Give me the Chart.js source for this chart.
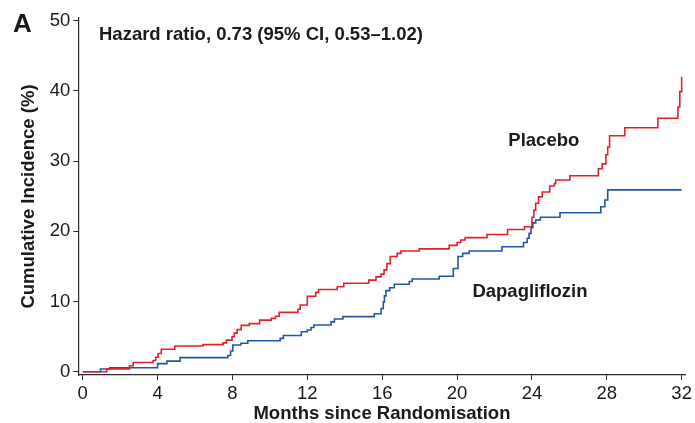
<!DOCTYPE html>
<html>
<head>
<meta charset="utf-8">
<script src="https://cdn.jsdelivr.net/npm/chart.js@4"></script>
<style>
  html, body { margin: 0; padding: 0; background: #fff; }
  #wrap { width: 695px; height: 423px; position: relative; }
</style>
</head>
<body>
<div id="wrap"><canvas id="chart" width="695" height="423"></canvas></div>
<script>
// Kaplan-Meier style cumulative incidence, step changes (months, %)
const placeboMonths = [0, 1.28, 2.5, 2.7, 3.76, 3.9, 4.03, 4.2, 4.92, 6.43, 7.5, 7.68, 7.98, 8.1, 8.25, 8.47, 8.9, 9.45, 10.07, 10.3, 10.5, 11.5, 11.62, 12.0, 12.45, 12.6, 13.6, 13.95, 15.28, 15.67, 15.94, 16.1, 16.25, 16.43, 16.8, 17.0, 17.98, 19.58, 20.0, 20.2, 20.43, 21.6, 22.7, 23.6, 24.0, 24.1, 24.2, 24.35, 24.55, 24.95, 25.2, 25.27, 26.03, 27.55, 27.75, 27.95, 28.05, 28.15, 28.96, 30.73, 31.8, 31.9, 32.0];
const placeboPct    = [0, 0.4, 0.85, 1.3, 1.6, 2.05, 2.6, 3.2, 3.65, 3.85, 4.1, 4.5, 5.0, 5.5, 6.0, 6.6, 6.85, 7.35, 7.6, 7.9, 8.45, 8.9, 9.5, 10.75, 11.3, 11.7, 12.1, 12.6, 13.05, 13.5, 13.9, 14.5, 15.4, 16.4, 16.85, 17.2, 17.5, 18.0, 18.4, 18.75, 19.1, 19.55, 20.25, 20.65, 22.0, 23.0, 24.0, 24.9, 25.6, 26.45, 26.8, 27.3, 27.9, 28.9, 29.6, 30.9, 32.0, 33.6, 34.75, 36.1, 37.7, 39.9, 42.0];

const dapaMonths = [0, 0.95, 1.45, 4.0, 4.5, 5.2, 7.75, 7.9, 8.02, 8.45, 8.82, 10.55, 10.72, 11.68, 12.0, 12.2, 12.35, 13.27, 13.45, 13.9, 15.58, 15.94, 16.06, 16.12, 16.2, 16.4, 16.65, 17.45, 17.6, 19.05, 19.8, 20.05, 20.3, 20.65, 22.4, 23.55, 23.75, 23.85, 23.95, 24.05, 24.2, 24.45, 25.5, 27.68, 27.9, 28.05, 32.0];
const dapaPct    = [0, 0.38, 0.57, 1.15, 1.5, 2.0, 2.3, 2.95, 3.8, 4.05, 4.4, 4.75, 5.15, 5.7, 5.95, 6.3, 6.65, 7.1, 7.5, 7.85, 8.25, 9.0, 9.95, 10.8, 11.55, 11.95, 12.45, 12.85, 13.2, 13.6, 14.7, 16.4, 16.85, 17.2, 17.8, 18.4, 19.0, 19.7, 20.5, 21.2, 21.6, 22.0, 22.65, 23.5, 24.45, 25.9, 25.9];

const monthTicks = [0, 4, 8, 12, 16, 20, 24, 28, 32];
const pctTicks = [0, 10, 20, 30, 40, 50];

const panelLabel = 'A';
const hazardText = 'Hazard ratio, 0.73 (95% CI, 0.53\u20131.02)';
const seriesNames = ['Placebo', 'Dapagliflozin'];

const toPoints = (xs, ys) => xs.map((x, i) => ({ x: x, y: ys[i] }));

const FONT = "'Liberation Sans', Arial, Helvetica, sans-serif";
const INK = '#1a1a1a';

// text labels placed in data coordinates
const notes = [
  { text: hazardText, x: 0.87, y: 47.2 },
  { text: seriesNames[0], x: 22.74, y: 32.15 },
  { text: seriesNames[1], x: 20.82, y: 10.57 }
];

const textPlugin = {
  id: 'panelText',
  afterDraw(chart) {
    const { ctx, scales } = chart;
    ctx.save();
    ctx.fillStyle = INK;
    ctx.textBaseline = 'alphabetic';
    ctx.textAlign = 'left';
    ctx.font = 'bold 26px ' + FONT;
    ctx.fillText(panelLabel, 13, 31.5);
    ctx.font = 'bold 18.5px ' + FONT;
    notes.forEach(n => {
      ctx.fillText(n.text, scales.x.getPixelForValue(n.x), scales.y.getPixelForValue(n.y));
    });
    ctx.restore();
  }
};

new Chart(document.getElementById('chart'), {
  type: 'line',
  data: {
    datasets: [
      {
        label: seriesNames[0],
        data: toPoints(placeboMonths, placeboPct),
        borderColor: '#e4212b',
        borderWidth: 1.6,
        pointRadius: 0,
        stepped: true,
        fill: false
      },
      {
        label: seriesNames[1],
        data: toPoints(dapaMonths, dapaPct),
        borderColor: '#2157a3',
        borderWidth: 1.6,
        pointRadius: 0,
        stepped: true,
        fill: false
      }
    ]
  },
  options: {
    responsive: false,
    animation: false,
    events: [],
    layout: { padding: { top: 18, right: 8, left: 0, bottom: 0 } },
    plugins: {
      legend: { display: false },
      tooltip: { enabled: false }
    },
    scales: {
      x: {
        type: 'linear',
        min: -0.235,
        max: 32.21,
        afterBuildTicks: s => { s.ticks = monthTicks.map(v => ({ value: v })); },
        afterFit: s => { s.height = 48; },
        ticks: {
          color: INK,
          padding: 3,
          maxRotation: 0,
          font: { family: FONT, size: 18.5 }
        },
        grid: {
          display: true,
          drawOnChartArea: false,
          drawTicks: true,
          tickLength: 5,
          color: '#2a2a2a',
          lineWidth: 1
        },
        border: { display: true, color: '#2a2a2a', width: 1.2 },
        title: {
          display: true,
          text: 'Months since Randomisation',
          color: INK,
          font: { family: FONT, size: 18.5, weight: 'bold', lineHeight: 1 },
          padding: { top: 0, bottom: 0 }
        }
      },
      y: {
        type: 'linear',
        min: -0.47,
        max: 50.38,
        afterBuildTicks: s => { s.ticks = pctTicks.map(v => ({ value: v })); },
        afterFit: s => { s.width = 78.3; },
        ticks: {
          color: INK,
          padding: 3,
          font: { family: FONT, size: 18.5 }
        },
        grid: {
          display: true,
          drawOnChartArea: false,
          drawTicks: true,
          tickLength: 5,
          color: '#2a2a2a',
          lineWidth: 1
        },
        border: { display: true, color: '#2a2a2a', width: 1.2 },
        title: {
          display: true,
          text: 'Cumulative Incidence (%)',
          color: INK,
          font: { family: FONT, size: 18.5, weight: 'bold', lineHeight: 1 },
          padding: { top: 19.5, bottom: 0 }
        }
      }
    }
  },
  plugins: [textPlugin]
});
</script>
</body>
</html>
